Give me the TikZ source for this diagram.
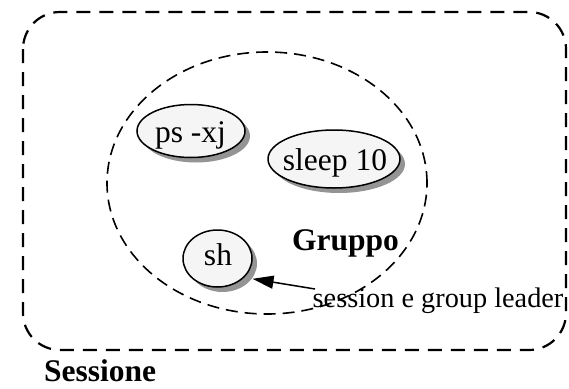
\documentclass[tikz,border=0pt]{standalone}
\usepackage{fontspec}
\setmainfont{Liberation Serif}
\usetikzlibrary{shapes.geometric,shadows,arrows.meta}
\begin{document}
\begin{tikzpicture}[x=1pt,y=-1pt,
  txt/.style={font=\fontsize{31.5}{36}\selectfont, inner sep=0pt},
  smalltxt/.style={font=\fontsize{28.3}{33}\selectfont, inner sep=0pt},
  boldtxt/.style={font=\bfseries\fontsize{31.5}{36}\selectfont, inner sep=0pt},
  proc/.style={ellipse, draw, line width=1.5pt, fill=black!4, inner sep=0pt,
    drop shadow={shadow xshift=5pt, shadow yshift=-5pt, fill=black!42, opacity=1}},
  boundary/.style={line width=2.2pt, dash pattern=on 14pt off 9pt},
  groupline/.style={ellipse, draw, line width=1.6pt, dash pattern=on 12pt off 7pt, inner sep=0pt},
  pointer/.style={line width=1.5pt, -{Triangle[length=21pt,width=13pt]}}]
\useasboundingbox (0,0) rectangle (569,388);

% session boundary
\draw[boundary, rounded corners=37pt] (23,12) rectangle (566,350);

% process group
\node[groupline, minimum width=320pt, minimum height=262pt] (gruppo) at (267,183) {};

% processes
\node[proc, minimum width=108pt, minimum height=53pt] (ps) at (191,131) {};
\node[txt, anchor=base] (pstxt) at (190.5,142) {ps -xj};
\node[proc, minimum width=132pt, minimum height=58pt] (sleep) at (334,159) {};
\node[txt, anchor=base] (sleeptxt) at (335,170) {sleep 10};
\node[proc, minimum width=69pt, minimum height=57pt] (sh) at (217.5,258.5) {};
\node[txt, anchor=base] (shtxt) at (218,265) {sh};

% labels
\node[boldtxt, anchor=base west] (gl) at (292,250) {Gruppo};
\node[smalltxt, anchor=base west] (leader) at (312.5,307) {session e group leader};
\node[boldtxt, anchor=base west] (sess) at (44,381) {Sessione};

% leader pointer
\coordinate (tail) at (315,289);
\draw[pointer] (tail) -- ([shift={(5,5)}]sh.-27);
\end{tikzpicture}
\end{document}
